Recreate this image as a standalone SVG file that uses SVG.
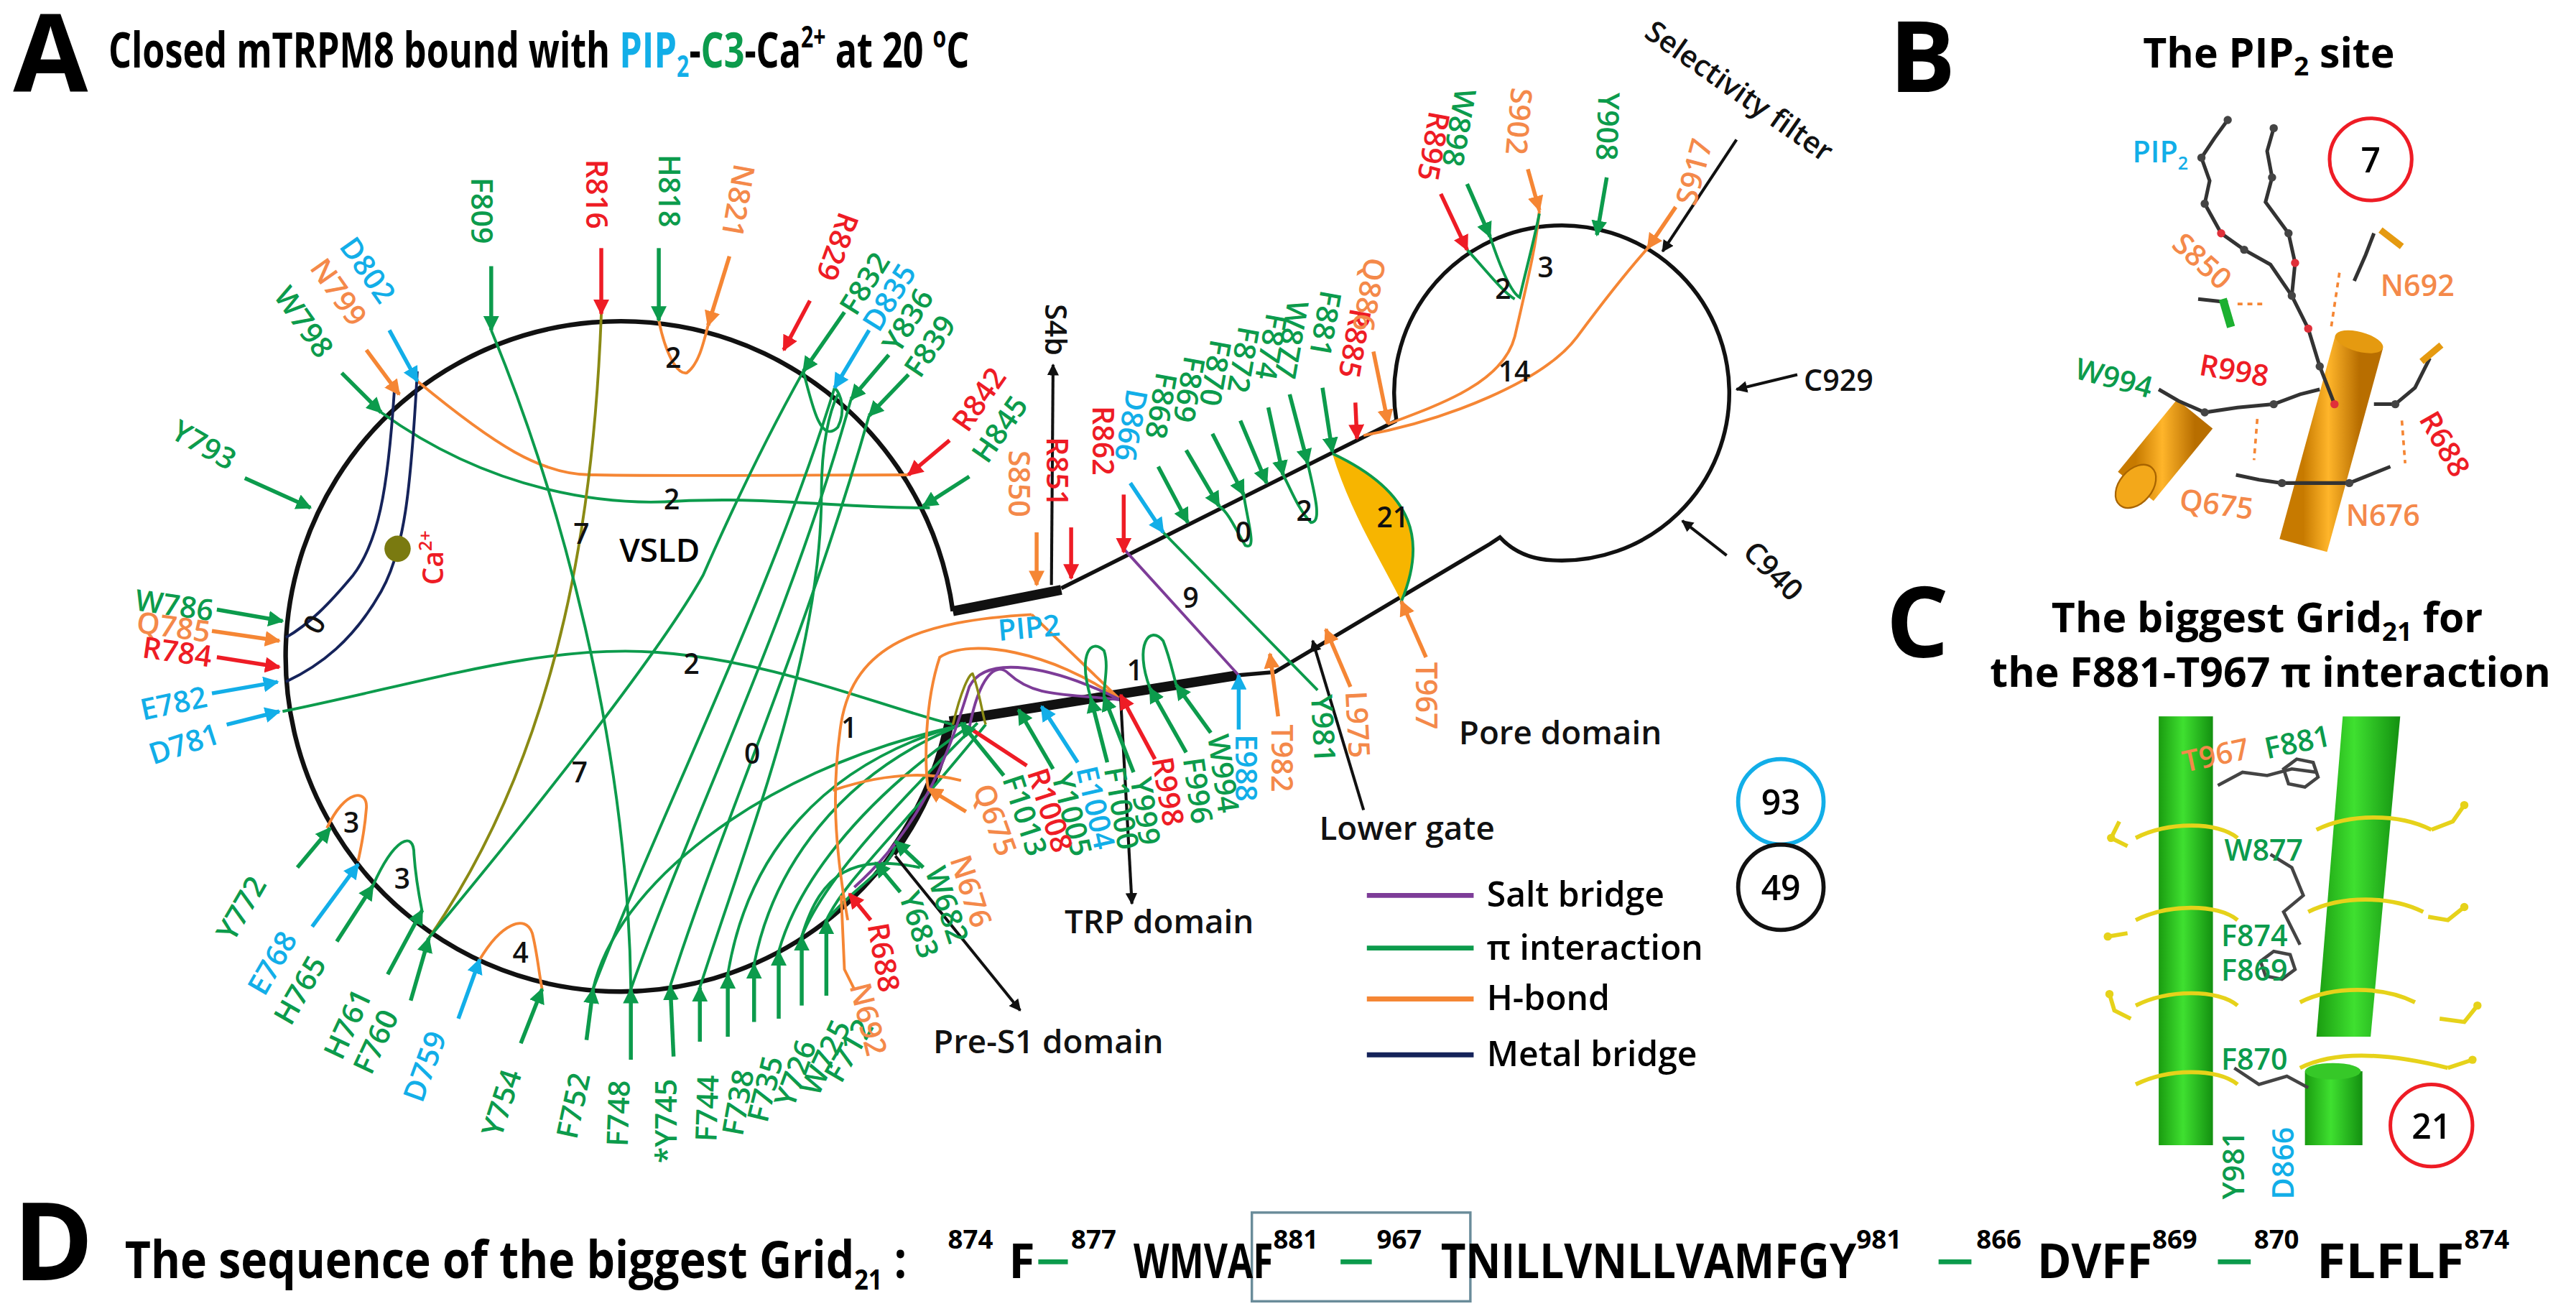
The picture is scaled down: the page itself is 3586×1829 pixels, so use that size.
<svg xmlns="http://www.w3.org/2000/svg" width="3586" height="1829" viewBox="0 0 3586 1829">
<defs>
<style>
text{font-family:"Open Sans","Noto Sans","Liberation Sans",sans-serif}
.lb{font-size:18px;font-weight:600}
.h{font-weight:700}
.gt{fill:#0c9b4c}.ot{fill:#f4894a}.rt{fill:#ee1c25}.ct{fill:#12aee8}.kt{fill:#111}
.ag{stroke:#0c9b4c;stroke-width:2.4;marker-end:url(#mg)}
.ao{stroke:#f58634;stroke-width:2.4;marker-end:url(#mo)}
.ar{stroke:#ee1c25;stroke-width:2.4;marker-end:url(#mr)}
.ac{stroke:#12aee8;stroke-width:2.4;marker-end:url(#mc)}
.ak{stroke:#111;stroke-width:1.8;marker-end:url(#mk)}
.cg{fill:none;stroke:#0c9b4c;stroke-width:1.7}
.co{fill:none;stroke:#f58634;stroke-width:1.7}
.cp{fill:none;stroke:#7d3c98;stroke-width:1.7}
.cn{fill:none;stroke:#15235a;stroke-width:1.7}
.num{font-size:17px;font-weight:600;fill:#111}
</style>
<marker id="mg" viewBox="0 0 10 10" refX="9" refY="5" markerWidth="4" markerHeight="4" orient="auto"><path d="M0,0L10,5L0,10z" fill="#0c9b4c"/></marker>
<marker id="mo" viewBox="0 0 10 10" refX="9" refY="5" markerWidth="4" markerHeight="4" orient="auto"><path d="M0,0L10,5L0,10z" fill="#f58634"/></marker>
<marker id="mr" viewBox="0 0 10 10" refX="9" refY="5" markerWidth="4" markerHeight="4" orient="auto"><path d="M0,0L10,5L0,10z" fill="#ee1c25"/></marker>
<marker id="mc" viewBox="0 0 10 10" refX="9" refY="5" markerWidth="4" markerHeight="4" orient="auto"><path d="M0,0L10,5L0,10z" fill="#12aee8"/></marker>
<marker id="mk" viewBox="0 0 10 10" refX="9" refY="5" markerWidth="4" markerHeight="4" orient="auto"><path d="M0,0L10,5L0,10z" fill="#111"/></marker>
<linearGradient id="gc" x1="0" x2="1"><stop offset="0" stop-color="#1a9c10"/><stop offset="0.45" stop-color="#3fe030"/><stop offset="1" stop-color="#139010"/></linearGradient>
<linearGradient id="oc" x1="0" x2="1"><stop offset="0" stop-color="#c77a00"/><stop offset="0.45" stop-color="#ffb52a"/><stop offset="1" stop-color="#b86e00"/></linearGradient>
</defs>
<rect width="3586" height="1829" fill="#fff"/>
<g transform="scale(2.287)">

<g id="titles">
<text x="8" y="56" class="h" font-size="66">A</text>
<text x="66" y="41" class="h" font-size="30" textLength="524" lengthAdjust="spacingAndGlyphs">Closed mTRPM8 bound with <tspan class="ct">PIP</tspan><tspan class="ct" font-size="18" dy="6">2</tspan><tspan dy="-6">-</tspan><tspan class="gt">C3</tspan><tspan>-Ca</tspan><tspan font-size="18" dy="-12">2+</tspan><tspan dy="12"> at 20 </tspan><tspan font-size="18" dy="-12">o</tspan><tspan dy="12">C</tspan></text>
<text x="1150" y="56" class="h" font-size="60">B</text>
<text x="1148" y="400" class="h" font-size="60">C</text>
<text x="8" y="779" class="h" font-size="66">D</text>
<text x="1381" y="41" class="h" font-size="25" text-anchor="middle">The PIP<tspan font-size="16" dy="5">2</tspan><tspan dy="-5"> site</tspan></text>
<text x="1380" y="385" class="h" font-size="25" text-anchor="middle">The biggest Grid<tspan font-size="16" dy="5">21</tspan><tspan dy="-5"> for</tspan></text>
<text x="1382" y="418" class="h" font-size="25" text-anchor="middle">the F881-T967 π interaction</text>
</g>

<g id="backbone" fill="none" stroke="#111">
<path d="M580,372 A204,204 0 1,0 578,439" stroke-width="2.8"/>
<path d="M543,519 A204,204 0 0,0 578,439" stroke-width="6"/>
<path d="M580,372 L646,359" stroke-width="6"/>
<path d="M646,358 L850,256" stroke-width="2.4"/>
<path d="M850,256 A102,102 0 1,1 945,341 Q925,340 913,327 L907,331 L776,409 L753,411" stroke-width="2.4"/>
<path d="M753,411 L578,439" stroke-width="6"/>
</g>

<g id="interactions">
<path class="cg" d="M232,251 C300,300 370,308 413,305 C470,302 520,310 566,309"/>
<path class="co" d="M254,232 C300,270 330,290 362,289 C420,290 500,289 553,289"/>
<path class="cn" d="M254,226 C250,300 246,335 232,360 C215,390 195,405 174,415"/>
<path class="cn" d="M240,238 C236,300 230,330 215,350 C200,368 188,380 174,388"/>
<path class="cg" d="M172,433 C260,415 330,392 400,397 C470,402 530,428 580,441"/>
<path fill="none" stroke="#8a8a14" stroke-width="1.7" d="M366,191 C362,300 345,450 261,571"/>
<path class="cg" d="M299,201 C340,300 382,450 384,602"/>
<path class="cg" d="M261,571 C320,500 400,400 428,350 C450,300 470,260 489,226"/>
<path class="cg" d="M361,602 C400,500 470,360 508,236"/>
<path class="cg" d="M384,602 C420,500 480,380 518,243"/>
<path class="cg" d="M408,600 C440,500 490,390 529,253"/>
<path class="cg" d="M426,601 C455,510 500,400 500,300 C500,270 505,250 510,240"/>
<path class="cg" d="M443,593 C455,520 500,465 585,441"/>
<path class="cg" d="M459,587 C470,530 510,470 588,440"/>
<path class="cg" d="M474,579 C485,540 520,490 590,442"/>
<path class="cg" d="M488,570 C500,540 530,505 595,440"/>
<path class="cg" d="M503,560 C515,535 540,515 600,441"/>
<path class="cg" d="M361,602 C375,540 460,470 578,443"/>
<path class="cg" d="M488,570 C500,530 520,520 560,528"/>
<path class="cg" d="M503,560 C520,540 540,530 545,515"/>
<path class="co" d="M628,374 C560,378 520,392 512,440 C506,480 508,515 516,560"/>
<path class="co" d="M682,426 C640,396 590,388 572,400 C562,430 563,470 565,480"/>
<path class="co" d="M628,374 L682,426"/>
<path class="co" d="M507,481 C540,470 565,470 585,475"/>
<path class="cp" d="M684,334 L754,411"/>
<path class="cp" d="M682,426 C640,405 600,398 590,418 C580,450 565,500 520,540"/>
<path class="cp" d="M590,443 C596,412 606,402 614,410 C630,425 650,422 682,426"/>
<path fill="none" stroke="#8a8a14" stroke-width="1.5" d="M580,441 C585,420 590,410 592,410 C596,420 598,435 600,441"/>
<path class="cg" d="M700,419 C690,392 700,380 708,390 C712,400 714,410 716,417"/>
<path class="cg" d="M664,425 C656,398 664,388 672,396 C675,405 672,415 672,424"/>
<path class="co" d="M199,504 C210,480 224,480 223,492 C222,505 220,515 218,524"/>
<path class="cg" d="M227,539 C240,510 252,505 252,520 C253,535 255,545 257,555"/>
<path class="co" d="M292,584 C305,562 320,556 324,568 C327,580 328,592 330,602"/>
<path class="co" d="M401,195 C405,215 412,228 418,227 C425,222 428,210 431,198"/>
<path class="cg" d="M489,226 C495,250 500,270 510,260 C515,250 512,240 508,236"/>
<path class="cg" d="M708,324 L802,420"/>
<path class="cg" d="M757,301 C760,320 765,335 758,332 C752,322 748,312 742,308"/>
<path class="cg" d="M796,282 C800,300 805,318 798,318 C790,310 785,296 781,289"/>
<path d="M811,276 C822,312 840,340 853,366 C868,330 862,300 811,276 Z" fill="#f7b500" stroke="none"/>
<path class="cg" d="M811,276 C862,300 868,330 853,366 L855,374"/>
<path class="co" d="M845,258 C880,245 915,232 922,205 C930,170 935,150 937,128"/>
<path class="co" d="M830,265 C880,256 940,232 960,205 C980,178 995,160 1003,151"/>
<path class="cg" d="M907,144 C914,165 920,178 925,181 C930,160 934,145 937,130"/>
<path class="cg" d="M893,152 C905,165 915,178 922,182"/>
<circle cx="242" cy="334" r="8" fill="#7a7a10"/>
</g>

<g id="numbers">
<text class="num" x="405" y="224">2</text>
<text class="num" x="404" y="310">2</text>
<text class="num" x="186" y="385" transform="rotate(-60 192 379)">0</text>
<text class="num" x="349" y="331">7</text>
<text class="num" x="416" y="410">2</text>
<text class="num" x="348" y="476">7</text>
<text class="num" x="453" y="465">0</text>
<text class="num" x="209" y="507">3</text>
<text class="num" x="240" y="541">3</text>
<text class="num" x="312" y="586">4</text>
<text class="num" x="512" y="449">1</text>
<text class="num" x="686" y="414">1</text>
<text class="num" x="720" y="370">9</text>
<text class="num" x="752" y="330">0</text>
<text class="num" x="789" y="317">2</text>
<text class="num" x="838" y="321">21</text>
<text class="num" x="910" y="182">2</text>
<text class="num" x="936" y="169">3</text>
<text class="num" x="912" y="232">14</text>
<text x="377" y="342" font-size="20" font-weight="600">VSLD</text>
<text x="0" y="0" font-size="17" font-weight="600" class="rt" transform="translate(270,356) rotate(-90)">Ca<tspan font-size="11" dy="-7">2+</tspan></text>
<text x="608" y="390" class="lb ct" font-size="19" transform="rotate(-5 608 390)">PIP2</text>
</g>

<g id="arrows">
<line class="ag" x1="299" y1="162" x2="299" y2="201"/>
<line class="ar" x1="366" y1="151" x2="366" y2="191"/>
<line class="ag" x1="401" y1="151" x2="401" y2="195"/>
<line class="ao" x1="444" y1="156" x2="431" y2="198"/>
<line class="ar" x1="493" y1="183" x2="477" y2="213"/>
<line class="ag" x1="514" y1="190" x2="489" y2="226"/>
<line class="ac" x1="529" y1="201" x2="508" y2="236"/>
<line class="ag" x1="541" y1="216" x2="518" y2="243"/>
<line class="ag" x1="553" y1="228" x2="529" y2="253"/>
<line class="ar" x1="578" y1="268" x2="553" y2="289"/>
<line class="ag" x1="590" y1="290" x2="562" y2="308"/>
<line class="ao" x1="631" y1="324" x2="631" y2="356"/>
<line class="ar" x1="652" y1="321" x2="652" y2="352"/>
<line class="ar" x1="684" y1="301" x2="684" y2="336"/>
<line class="ac" x1="688" y1="294" x2="708" y2="324"/>
<line class="ag" x1="705" y1="284" x2="723" y2="318"/>
<line class="ag" x1="722" y1="274" x2="742" y2="308"/>
<line class="ag" x1="738" y1="264" x2="757" y2="301"/>
<line class="ag" x1="755" y1="256" x2="771" y2="294"/>
<line class="ag" x1="772" y1="248" x2="781" y2="289"/>
<line class="ag" x1="785" y1="240" x2="796" y2="282"/>
<line class="ag" x1="805" y1="236" x2="811" y2="275"/>
<line class="ar" x1="825" y1="245" x2="826" y2="267"/>
<line class="ao" x1="836" y1="214" x2="845" y2="258"/>
<line class="ar" x1="877" y1="118" x2="893" y2="152"/>
<line class="ag" x1="893" y1="112" x2="907" y2="144"/>
<line class="ao" x1="930" y1="103" x2="937" y2="128"/>
<line class="ag" x1="978" y1="108" x2="972" y2="143"/>
<line class="ao" x1="1020" y1="126" x2="1003" y2="151"/>
<line class="ak" x1="1057" y1="85" x2="1012" y2="153"/>
<line class="ak" x1="1094" y1="228" x2="1057" y2="237"/>
<line class="ak" x1="1051" y1="338" x2="1024" y2="317"/>
<line class="ak" x1="640" y1="356" x2="641" y2="222"/>
<line class="ak" x1="830" y1="493" x2="799" y2="390"/>
<line class="ak" x1="682" y1="423" x2="689" y2="550"/>
<line class="ak" x1="545" y1="521" x2="621" y2="615"/>
<line class="ag" x1="132" y1="371" x2="172" y2="378"/>
<line class="ao" x1="129" y1="384" x2="170" y2="390"/>
<line class="ar" x1="132" y1="400" x2="170" y2="406"/>
<line class="ac" x1="129" y1="422" x2="169" y2="415"/>
<line class="ac" x1="138" y1="441" x2="170" y2="433"/>
<line class="ag" x1="149" y1="291" x2="189" y2="309"/>
<line class="ag" x1="208" y1="227" x2="232" y2="251"/>
<line class="ao" x1="223" y1="213" x2="243" y2="240"/>
<line class="ac" x1="237" y1="201" x2="254" y2="232"/>
<line class="ag" x1="181" y1="528" x2="201" y2="504"/>
<line class="ac" x1="190" y1="564" x2="218" y2="526"/>
<line class="ag" x1="205" y1="573" x2="227" y2="539"/>
<line class="ag" x1="236" y1="593" x2="257" y2="554"/>
<line class="ag" x1="250" y1="609" x2="261" y2="571"/>
<line class="ac" x1="279" y1="620" x2="292" y2="584"/>
<line class="ag" x1="317" y1="635" x2="330" y2="602"/>
<line class="ag" x1="357" y1="633" x2="361" y2="602"/>
<line class="ag" x1="384" y1="645" x2="384" y2="602"/>
<line class="ag" x1="410" y1="643" x2="408" y2="600"/>
<line class="ag" x1="426" y1="634" x2="426" y2="601"/>
<line class="ag" x1="443" y1="631" x2="443" y2="593"/>
<line class="ag" x1="459" y1="622" x2="459" y2="587"/>
<line class="ag" x1="474" y1="620" x2="474" y2="579"/>
<line class="ag" x1="488" y1="612" x2="488" y2="570"/>
<line class="ag" x1="503" y1="606" x2="503" y2="560"/>
<line class="ac" x1="754" y1="444" x2="754" y2="411"/>
<line class="ao" x1="778" y1="436" x2="773" y2="398"/>
<line class="ao" x1="822" y1="418" x2="807" y2="383"/>
<line class="ao" x1="868" y1="400" x2="853" y2="366"/>
<line class="ag" x1="737" y1="446" x2="716" y2="417"/>
<line class="ag" x1="722" y1="458" x2="700" y2="419"/>
<line class="ar" x1="703" y1="462" x2="682" y2="423"/>
<line class="ag" x1="690" y1="470" x2="672" y2="424"/>
<line class="ag" x1="674" y1="464" x2="664" y2="425"/>
<line class="ac" x1="656" y1="464" x2="634" y2="430"/>
<line class="ag" x1="641" y1="468" x2="620" y2="432"/>
<line stroke="#ee1c25" stroke-width="2.4" x1="625" y1="466" x2="590" y2="443"/>
<line class="ag" x1="611" y1="472" x2="585" y2="440"/>
<line class="ao" x1="588" y1="494" x2="565" y2="480"/>
<line class="ag" x1="562" y1="528" x2="545" y2="512"/>
<line class="ag" x1="548" y1="543" x2="533" y2="525"/>
<line class="ar" x1="530" y1="560" x2="517" y2="544"/>
<path class="co" d="M520,602 L514,590 L512,545"/>
</g>

<g id="labels" class="lb">
<text class="gt" transform="translate(287,108) rotate(90)">F809</text>
<text class="rt" transform="translate(357,97) rotate(90)">R816</text>
<text class="gt" transform="translate(401,94) rotate(90)">H818</text>
<text class="ot" transform="translate(447,99) rotate(100)">N821</text>
<text class="rt" transform="translate(511,128) rotate(110)">R829</text>
<text class="gt" transform="translate(521,193) rotate(-58)">F832</text>
<text class="ct" transform="translate(535,203) rotate(-58)">D835</text>
<text class="gt" transform="translate(547,216) rotate(-58)">Y836</text>
<text class="gt" transform="translate(560,231) rotate(-56)">F839</text>
<text class="rt" transform="translate(589,264) rotate(-55)">R842</text>
<text class="gt" transform="translate(601,283) rotate(-55)">H845</text>
<text class="ot" transform="translate(614,274) rotate(90)">S850</text>
<text class="rt" transform="translate(637,266) rotate(90)">R851</text>
<text class="rt" transform="translate(665,247) rotate(90)">R862</text>
<text class="ct" transform="translate(686,236) rotate(100)">D866</text>
<text class="gt" transform="translate(704,226) rotate(100)">F868</text>
<text class="gt" transform="translate(721,216) rotate(100)">F869</text>
<text class="gt" transform="translate(737,206) rotate(100)">F870</text>
<text class="gt" transform="translate(754,198) rotate(100)">F872</text>
<text class="gt" transform="translate(771,190) rotate(100)">F874</text>
<text class="gt" transform="translate(784,182) rotate(100)">W877</text>
<text class="gt" transform="translate(804,176) rotate(100)">F881</text>
<text class="rt" transform="translate(822,187) rotate(100)">R885</text>
<text class="ot" transform="translate(831,156) rotate(100)">Q886</text>
<text class="rt" transform="translate(870,67) rotate(100)">R895</text>
<text class="gt" transform="translate(886,53) rotate(100)">W898</text>
<text class="ot" transform="translate(920,53) rotate(95)">S902</text>
<text class="gt" transform="translate(973,56) rotate(92)">Y908</text>
<text class="ot" transform="translate(1032,126) rotate(-75)">S917</text>
<text class="kt" transform="translate(636,185) rotate(90)">S4b</text>
<text class="kt" transform="translate(1000,22) rotate(35)">Selectivity filter</text>
<text class="kt" x="1098" y="238">C929</text>
<text class="kt" transform="translate(1060,337) rotate(45)">C940</text>
<text class="kt" x="888" y="453" font-size="20">Pore domain</text>
<text class="kt" x="803" y="511" font-size="20">Lower gate</text>
<text class="kt" x="648" y="568" font-size="20">TRP domain</text>
<text class="kt" x="568" y="641" font-size="20">Pre-S1 domain</text>

<text class="gt" text-anchor="end" transform="translate(129,378) rotate(8)">W786</text>
<text class="ot" text-anchor="end" transform="translate(127,391) rotate(8)">Q785</text>
<text class="rt" text-anchor="end" transform="translate(128,406) rotate(8)">R784</text>
<text class="ct" text-anchor="end" transform="translate(127,430) rotate(-12)">E782</text>
<text class="ct" text-anchor="end" transform="translate(135,452) rotate(-18)">D781</text>
<text class="gt" transform="translate(103,266) rotate(30)">Y793</text>
<text class="gt" transform="translate(166,180) rotate(55)">W798</text>
<text class="ot" transform="translate(188,163) rotate(55)">N799</text>
<text class="ct" transform="translate(206,150) rotate(55)">D802</text>

<text class="gt" transform="translate(142,574) rotate(-60)">Y772</text>
<text class="ct" transform="translate(161,607) rotate(-60)">E768</text>
<text class="gt" transform="translate(177,625) rotate(-60)">H765</text>
<text class="gt" transform="translate(208,646) rotate(-65)">H761</text>
<text class="gt" transform="translate(226,655) rotate(-65)">F760</text>
<text class="ct" transform="translate(257,672) rotate(-70)">D759</text>
<text class="gt" transform="translate(305,693) rotate(-72)">Y754</text>
<text class="gt" transform="translate(351,694) rotate(-78)">F752</text>
<text class="gt" transform="translate(382,698) rotate(-88)">F748</text>
<text class="gt" transform="translate(412,708) rotate(-90)">*Y745</text>
<text class="gt" transform="translate(436,695) rotate(-88)">F744</text>
<text class="gt" transform="translate(452,692) rotate(-80)">F738</text>
<text class="gt" transform="translate(467,684) rotate(-76)">F735</text>
<text class="gt" transform="translate(483,675) rotate(-70)">Y726</text>
<text class="gt" transform="translate(498,668) rotate(-65)">W725</text>
<text class="gt" transform="translate(512,660) rotate(-60)">F712</text>

<text class="ct" transform="translate(752,447) rotate(90)">E988</text>
<text class="ot" transform="translate(774,441) rotate(90)">T982</text>
<text class="gt" transform="translate(798,423) rotate(87)">Y981</text>
<text class="ot" transform="translate(819,421) rotate(87)">L975</text>
<text class="ot" transform="translate(862,403) rotate(90)">T967</text>
<text class="gt" transform="translate(735,448) rotate(82)">W994</text>
<text class="gt" transform="translate(720,462) rotate(82)">F996</text>
<text class="rt" transform="translate(701,462) rotate(80)">R998</text>
<text class="gt" transform="translate(688,474) rotate(82)">Y999</text>
<text class="gt" transform="translate(672,468) rotate(80)">F1000</text>
<text class="ct" transform="translate(655,468) rotate(77)">E1004</text>
<text class="gt" transform="translate(640,472) rotate(76)">Y1005</text>
<text class="rt" transform="translate(625,470) rotate(72)">R1008</text>
<text class="gt" transform="translate(610,474) rotate(72)">F1013</text>
<text class="ot" transform="translate(592,480) rotate(70)">Q675</text>
<text class="ot" transform="translate(578,523) rotate(72)">N676</text>
<text class="gt" transform="translate(563,530) rotate(72)">W682</text>
<text class="gt" transform="translate(547,545) rotate(72)">Y683</text>
<text class="rt" transform="translate(528,563) rotate(80)">R688</text>
<text class="ot" transform="translate(517,600) rotate(76)">N692</text>
</g>

<g id="legend">
<line x1="832" y1="545" x2="897" y2="545" stroke="#7d3c98" stroke-width="3"/>
<line x1="832" y1="577" x2="897" y2="577" stroke="#0c9b4c" stroke-width="3"/>
<line x1="832" y1="608" x2="897" y2="608" stroke="#f58634" stroke-width="3"/>
<line x1="832" y1="642" x2="897" y2="642" stroke="#15235a" stroke-width="3"/>
<g font-size="21" font-weight="600">
<text x="905" y="552">Salt bridge</text>
<text x="905" y="584">π interaction</text>
<text x="905" y="615">H-bond</text>
<text x="905" y="649">Metal bridge</text>
</g>
<circle cx="1084" cy="488" r="26" fill="none" stroke="#12aee8" stroke-width="2.5"/>
<circle cx="1084" cy="540" r="26" fill="none" stroke="#111" stroke-width="2.5"/>
<text x="1084" y="496" font-size="21" font-weight="600" text-anchor="middle">93</text>
<text x="1084" y="548" font-size="21" font-weight="600" text-anchor="middle">49</text>
</g>

<g id="panelB">
<line x1="1436" y1="208" x2="1402" y2="332" stroke="url(#oc)" stroke-width="30"/>
<ellipse cx="1436" cy="208" rx="15" ry="6" fill="#e59a10" transform="rotate(15 1436 208)"/>
<line x1="1336" y1="252" x2="1300" y2="296" stroke="url(#oc)" stroke-width="28"/>
<ellipse cx="1300" cy="296" rx="15" ry="10" fill="#f3a81a" stroke="#a86400" transform="rotate(-50 1300 296)"/>
<g fill="none" stroke="#333" stroke-width="2.2">
<polyline points="1356,73 1348,84 1340,96 1345,110 1342,124 1352,142 1366,152 1382,161 1395,180"/>
<polyline points="1384,78 1380,92 1383,108 1379,123 1393,142 1397,160 1395,180 1405,200 1412,223 1421,246"/>
<polyline points="1314,237 1326,244 1342,251 1362,248 1384,246 1400,240 1412,237"/>
<polyline points="1433,171 1440,155 1445,142"/>
<polyline points="1445,246 1458,246 1470,236 1479,218"/>
<polyline points="1361,289 1375,292 1389,294 1410,294 1430,294 1455,284"/>
<polyline points="1338,182 1356,184"/>
</g>
<g fill="#444"><circle cx="1356" cy="73" r="2.5"/><circle cx="1340" cy="96" r="2.5"/><circle cx="1342" cy="124" r="2.5"/><circle cx="1366" cy="152" r="2.5"/><circle cx="1384" cy="78" r="2.5"/><circle cx="1383" cy="108" r="2.5"/><circle cx="1393" cy="142" r="2.5"/><circle cx="1395" cy="180" r="2.5"/><circle cx="1412" cy="223" r="2.5"/><circle cx="1342" cy="251" r="2.5"/><circle cx="1384" cy="246" r="2.5"/><circle cx="1458" cy="246" r="2.5"/><circle cx="1389" cy="294" r="2.5"/><circle cx="1430" cy="294" r="2.5"/></g>
<g fill="#e0303a"><circle cx="1352" cy="142" r="2.5"/><circle cx="1397" cy="160" r="2.5"/><circle cx="1421" cy="246" r="2.5"/><circle cx="1405" cy="200" r="2.5"/></g>
<path d="M1449,140 L1462,150" stroke="#e59a10" stroke-width="4"/>
<path d="M1474,220 L1486,210" stroke="#e59a10" stroke-width="4"/>
<line x1="1353" y1="182" x2="1358" y2="199" stroke="#1cb030" stroke-width="5"/>
<g stroke="#f58634" stroke-width="1.6" stroke-dasharray="3,3">
<line x1="1362" y1="185" x2="1378" y2="185"/><line x1="1374" y1="255" x2="1372" y2="280"/><line x1="1424" y1="166" x2="1419" y2="199"/><line x1="1462" y1="256" x2="1464" y2="282"/>
</g>
<circle cx="1443" cy="97" r="25" fill="none" stroke="#ee1c25" stroke-width="2.2"/>
<text x="1443" y="105" font-size="21" font-weight="600" text-anchor="middle">7</text>
<text class="lb ct" x="1298" y="99" font-size="17">PIP<tspan font-size="11" dy="4">2</tspan></text>
<text class="lb ot" transform="translate(1321,150) rotate(42)">S850</text>
<text class="lb ot" x="1449" y="180">N692</text>
<text class="lb gt" transform="translate(1262,230) rotate(15)">W994</text>
<text class="lb rt" transform="translate(1338,228) rotate(10)">R998</text>
<text class="lb rt" transform="translate(1472,255) rotate(60)">R688</text>
<text class="lb ot" transform="translate(1326,310) rotate(8)">Q675</text>
<text class="lb ot" x="1428" y="320">N676</text>
</g>

<g id="panelC">
<rect x="1314" y="436" width="33" height="261" fill="url(#gc)"/>
<path d="M1426,436 L1461,436 L1443,631 L1410,631 Z" fill="url(#gc)"/>
<rect x="1403" y="652" width="35" height="45" fill="url(#gc)"/>
<ellipse cx="1420" cy="652" rx="17" ry="5" fill="#36c828"/>
<g fill="none" stroke="#e6d21a" stroke-width="2.5">
<path d="M1300,510 C1320,500 1350,500 1362,510"/><path d="M1300,560 C1320,550 1350,550 1362,560"/><path d="M1300,612 C1320,602 1350,602 1362,612"/><path d="M1300,660 C1320,650 1350,650 1362,660"/>
<path d="M1410,505 C1430,495 1460,495 1480,505"/><path d="M1405,555 C1425,545 1455,545 1475,555"/><path d="M1400,610 C1420,600 1450,600 1470,610"/><path d="M1400,650 C1420,640 1450,640 1490,650"/>
<polyline points="1295,515 1285,510 1290,500"/><polyline points="1295,568 1283,570"/><polyline points="1297,620 1287,615 1284,605"/><polyline points="1480,505 1493,500 1500,490"/><polyline points="1478,558 1490,560 1500,552"/><polyline points="1485,620 1500,622 1508,612"/><polyline points="1490,650 1505,645"/>
</g>
<g fill="#e6d21a"><circle cx="1285" cy="510" r="2.5"/><circle cx="1283" cy="570" r="2.5"/><circle cx="1284" cy="605" r="2.5"/><circle cx="1500" cy="490" r="2.5"/><circle cx="1500" cy="552" r="2.5"/><circle cx="1508" cy="612" r="2.5"/><circle cx="1505" cy="645" r="2.5"/></g>
<g fill="none" stroke="#444" stroke-width="2">
<polyline points="1350,478 1365,470 1380,472 1395,468 1410,470"/>
<path d="M1390,468 l8,-6 l10,2 l3,9 l-8,6 l-10,-2 z"/>
<polyline points="1382,520 1395,528 1402,545 1390,555 1400,575"/>
<path d="M1376,585 l8,-6 l10,2 l3,9 l-8,6 l-10,-2 z"/>
<polyline points="1360,650 1375,660 1392,655 1405,662"/>
</g>
<text class="lb ot" transform="translate(1330,470) rotate(-12)">T967</text>
<text class="lb gt" transform="translate(1380,462) rotate(-12)">F881</text>
<text class="lb gt" x="1354" y="524">W877</text>
<text class="lb gt" x="1352" y="576">F874</text>
<text class="lb gt" x="1352" y="597">F869</text>
<text class="lb gt" x="1352" y="651">F870</text>
<text class="lb gt" transform="translate(1366,730) rotate(-90)">Y981</text>
<text class="lb ct" transform="translate(1396,730) rotate(-90)">D866</text>
<circle cx="1480" cy="685" r="25" fill="none" stroke="#ee1c25" stroke-width="2.2"/>
<text x="1480" y="693" font-size="21" font-weight="600" text-anchor="middle">21</text>
</g>

<g id="panelD">
<text x="76" y="778" font-size="31" font-weight="700" textLength="476" lengthAdjust="spacingAndGlyphs">The sequence of the biggest Grid<tspan font-size="17" dy="7">21</tspan><tspan dy="-7"> :</tspan></text>
<rect x="762" y="738" width="133" height="54" fill="none" stroke="#6a8c9a" stroke-width="1.5"/>
<g font-family="'Liberation Mono',monospace" font-weight="700">
<g font-size="16">
<text x="577" y="760">874</text><text x="652" y="760">877</text><text x="775" y="760">881</text><text x="838" y="760">967</text><text x="1130" y="760">981</text><text x="1203" y="760">866</text><text x="1310" y="760">869</text><text x="1372" y="760">870</text><text x="1500" y="760">874</text>
</g>
<g font-size="29">
<text x="614" y="778" textLength="18">F</text>
<text x="690" y="778" textLength="85" lengthAdjust="spacingAndGlyphs">WMVAF</text>
<text x="877" y="778" textLength="253" lengthAdjust="spacingAndGlyphs">TNILLVNLLVAMFGY</text>
<text x="1240" y="778" textLength="70" lengthAdjust="spacingAndGlyphs">DVFF</text>
<text x="1410" y="778" textLength="90" lengthAdjust="spacingAndGlyphs">FLFLF</text>
</g>
</g>
<g stroke="#0c9b4c" stroke-width="3">
<line x1="632" y1="768" x2="650" y2="768"/><line x1="816" y1="768" x2="835" y2="768"/><line x1="1180" y1="768" x2="1200" y2="768"/><line x1="1350" y1="768" x2="1370" y2="768"/>
</g>
</g>
</g>
</svg>
